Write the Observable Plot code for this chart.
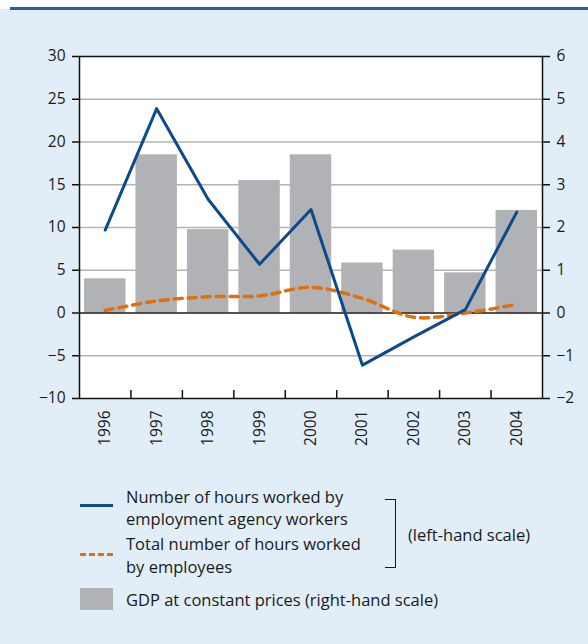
<!DOCTYPE html>
<html>
<head>
<meta charset="utf-8">
<script src="https://cdn.jsdelivr.net/npm/d3@7"></script>
<script src="https://cdn.jsdelivr.net/npm/@observablehq/plot@0.6"></script>
<style>
  html, body { margin: 0; padding: 0; background: #ffffff; }
  #page { position: relative; width: 588px; height: 644px; overflow: hidden; font-family: "Open Sans", sans-serif; color: #1a1a1a; }
  #bg { position: absolute; left: 0; top: 9px; width: 588px; height: 635px; background: #e1eef7; }
  #topline { position: absolute; left: 10px; top: 7px; width: 578px; height: 2.5px; background: #2b5f9c; }
  #chart { position: absolute; left: 0; top: 0; }
  .leg { position: absolute; font-size: 16.5px; line-height: 20px; height: 20px; white-space: nowrap; }
</style>
</head>
<body>
<div id="page">
  <div id="bg"></div>
  <div id="topline"></div>
  <div id="chart"></div>
  <div id="legend"></div>
</div>
<script>
// ---- data ----
const years = [1996, 1997, 1998, 1999, 2000, 2001, 2002, 2003, 2004];
const agencyHours = [9.7, 23.9, 13.3, 5.7, 12.1, -6.1, -2.8, 0.4, 11.8];     // left-hand scale, %
const employeeHours = [0.3, 1.4, 1.9, 2.0, 3.0, 1.7, -0.5, 0.0, 1.0];        // left-hand scale, %
const gdp = [0.8, 3.7, 1.95, 3.1, 3.7, 1.17, 1.47, 0.94, 2.4];               // right-hand scale, %
const leftTicks = [-10, -5, 0, 5, 10, 15, 20, 25, 30];
const rightTicks = [-2, -1, 0, 1, 2, 3, 4, 5, 6];
const labels = {
  agency: ["Number of hours worked by", "employment agency workers"],
  employees: ["Total number of hours worked", "by employees"],
  gdp: "GDP at constant prices (right-hand scale)",
  leftScale: "(left-hand scale)"
};

const ratio = leftTicks[leftTicks.length - 1] / rightTicks[rightTicks.length - 1]; // 5
const boundaries = years.slice(0, -1).map(y => y + 0.5);
const rows = years.map((year, i) => ({year, agency: agencyHours[i], employees: employeeHours[i], gdp: gdp[i]}));
const fmt = v => String(Math.round(v * 100) / 100).replace("-", "\u2212");

const blue = "#0b4a8b";
const orange = "#e0700c";
const grey = "#b1b2b5";

const chart = Plot.plot({
  width: 588,
  height: 450,
  marginLeft: 79,
  marginRight: 46,
  marginTop: 56,
  marginBottom: 52,
  style: {fontFamily: "Open Sans, sans-serif", fontSize: "15.5px", background: "transparent", color: "#1a1a1a"},
  x: {domain: [years[0] - 0.5, years[years.length - 1] + 0.5]},
  y: {domain: [leftTicks[0], leftTicks[leftTicks.length - 1]]},
  marks: [
    Plot.frame({fill: "white", stroke: "none"}),
    Plot.gridY(leftTicks.filter(t => t !== 0 && t !== leftTicks[0] && t !== leftTicks[leftTicks.length - 1]), {stroke: "#b4b4b4", strokeOpacity: 1, strokeWidth: 1.5}),
    Plot.rectY(rows, {x1: d => d.year - 0.5, x2: d => d.year + 0.5, y1: 0, y2: d => d.gdp * ratio, fill: grey, insetLeft: 5, insetRight: 5}),
    Plot.ruleY([0], {stroke: "#1a1a1a", strokeWidth: 1.5}),
    Plot.line(rows, {x: "year", y: "employees", stroke: orange, strokeWidth: 3.5, strokeDasharray: "8,6", curve: "catmull-rom"}),
    Plot.line(rows, {x: "year", y: "agency", stroke: blue, strokeWidth: 3}),
    Plot.frame({stroke: "#111", strokeWidth: 1.5}),
    Plot.axisY(leftTicks, {anchor: "left", tickSize: 7, tickPadding: 7, tickFormat: fmt, label: null, stroke: "#111", strokeWidth: 1.5}),
    Plot.axisY(leftTicks, {anchor: "right", tickSize: 7, tickPadding: 7, tickFormat: d => fmt(d / ratio), label: null, stroke: "#111", strokeWidth: 1.5}),
    Plot.ruleX(boundaries, {y1: leftTicks[0], y2: leftTicks[0], insetBottom: 8, stroke: "#111", strokeWidth: 1.5}),
    Plot.axisX(years, {anchor: "bottom", tickSize: 0, tickPadding: 12, tickRotate: -90, tickFormat: d => String(d), label: null})
  ]
});
document.getElementById("chart").appendChild(chart);

// ---- legend (HTML) ----
const legend = document.getElementById("legend");
function el(css, text, cls) {
  const e = document.createElement("div");
  e.style.cssText = css;
  if (text) e.textContent = text;
  if (cls) e.className = cls;
  legend.appendChild(e);
  return e;
}
el(`position:absolute;left:80px;top:503.5px;width:33px;height:3px;background:${blue};`);
labels.agency.forEach((t, i) => el(`left:126px;top:${486.6 + i * 22.6}px;`, t, "leg"));
el(`position:absolute;left:80px;top:553px;width:33px;height:0;border-top:3px dashed ${orange};`);
labels.employees.forEach((t, i) => el(`left:126px;top:${534 + i * 22.6}px;`, t, "leg"));
el("position:absolute;left:385px;top:499px;width:10px;height:67px;border:1.5px solid #1a1a1a;border-left:none;");
el("left:408px;top:525.3px;", labels.leftScale, "leg");
el(`position:absolute;left:80px;top:588px;width:33px;height:22px;background:${grey};`);
el("left:126px;top:590.3px;", labels.gdp, "leg");
</script>
</body>
</html>
